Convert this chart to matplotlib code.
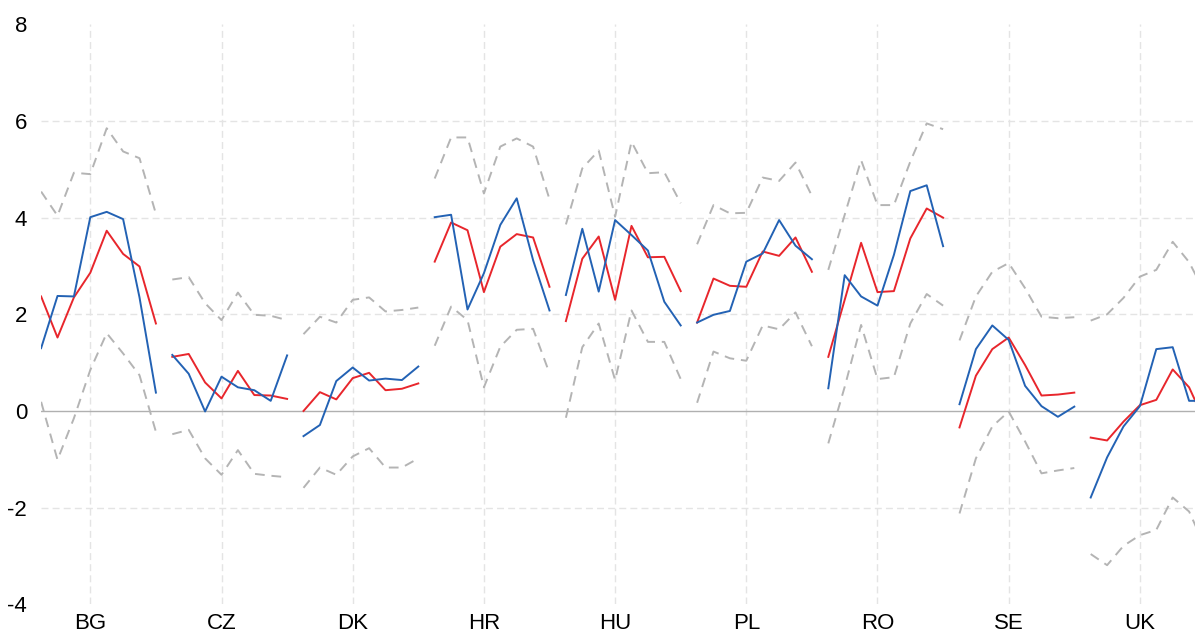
import matplotlib
matplotlib.use("Agg")
import matplotlib.pyplot as plt
import numpy as np

plt.rcParams['font.family'] = ['Liberation Sans', 'DejaVu Sans']

countries = ["BG", "CZ", "DK", "HR", "HU", "PL", "RO", "SE", "UK"]

blue = {
    "BG": [1.30, 2.38, 2.37, 4.01, 4.12, 3.97, 2.35, 0.38],
    "CZ": [1.16, 0.77, -0.01, 0.71, 0.49, 0.43, 0.21, 1.15],
    "DK": [-0.52, -0.29, 0.62, 0.90, 0.63, 0.67, 0.64, 0.92],
    "HR": [4.01, 4.06, 2.10, 2.85, 3.85, 4.40, 3.12, 2.08],
    "HU": [2.40, 3.77, 2.47, 3.95, 3.64, 3.32, 2.26, 1.77],
    "PL": [1.83, 1.99, 2.07, 3.09, 3.26, 3.95, 3.42, 3.14],
    "RO": [0.47, 2.81, 2.37, 2.18, 3.23, 4.55, 4.67, 3.41],
    "SE": [0.14, 1.28, 1.77, 1.47, 0.52, 0.10, -0.12, 0.09],
    "UK": [-1.79, -0.96, -0.32, 0.10, 1.28, 1.32, 0.21, 0.21],
}
red = {
    "BG": [2.37, 1.52, 2.35, 2.86, 3.73, 3.25, 2.99, 1.81],
    "CZ": [1.12, 1.18, 0.59, 0.26, 0.83, 0.33, 0.32, 0.25],
    "DK": [0.00, 0.39, 0.24, 0.68, 0.79, 0.43, 0.46, 0.57],
    "HR": [3.09, 3.90, 3.74, 2.46, 3.40, 3.66, 3.59, 2.57],
    "HU": [1.86, 3.15, 3.61, 2.30, 3.83, 3.18, 3.19, 2.48],
    "PL": [1.83, 2.74, 2.59, 2.57, 3.30, 3.21, 3.59, 2.88],
    "RO": [1.12, 2.30, 3.48, 2.46, 2.48, 3.57, 4.19, 4.00],
    "SE": [-0.34, 0.73, 1.28, 1.52, 0.95, 0.32, 0.34, 0.38],
    "UK": [-0.55, -0.61, -0.22, 0.12, 0.23, 0.86, 0.49, -0.25],
}
upper = {
    "BG": [4.54, 4.04, 4.93, 4.90, 5.85, 5.37, 5.23, 4.08],
    "CZ": [2.72, 2.77, 2.23, 1.88, 2.45, 1.99, 1.97, 1.88],
    "DK": [1.59, 1.95, 1.83, 2.30, 2.35, 2.06, 2.09, 2.14],
    "HR": [4.81, 5.66, 5.66, 4.50, 5.47, 5.64, 5.47, 4.38],
    "HU": [3.86, 5.02, 5.39, 4.02, 5.57, 4.92, 4.94, 4.30],
    "PL": [3.45, 4.26, 4.09, 4.10, 4.83, 4.76, 5.14, 4.45],
    "RO": [2.92, 4.06, 5.19, 4.26, 4.26, 5.16, 5.95, 5.83],
    "SE": [1.46, 2.37, 2.88, 3.06, 2.54, 1.95, 1.92, 1.94],
    "UK": [1.87, 2.00, 2.34, 2.78, 2.92, 3.50, 3.08, 2.42],
}
lower = {
    "BG": [0.19, -1.01, -0.15, 0.85, 1.61, 1.19, 0.74, -0.43],
    "CZ": [-0.48, -0.39, -0.98, -1.32, -0.81, -1.30, -1.34, -1.37],
    "DK": [-1.59, -1.17, -1.32, -0.94, -0.77, -1.17, -1.17, -0.98],
    "HR": [1.35, 2.16, 1.88, 0.49, 1.33, 1.68, 1.70, 0.78],
    "HU": [-0.14, 1.32, 1.81, 0.64, 2.08, 1.43, 1.43, 0.66],
    "PL": [0.17, 1.23, 1.09, 1.04, 1.77, 1.69, 2.04, 1.34],
    "RO": [-0.67, 0.50, 1.78, 0.66, 0.70, 1.81, 2.42, 2.18],
    "SE": [-2.12, -0.98, -0.32, -0.01, -0.63, -1.29, -1.23, -1.18],
    "UK": [-2.96, -3.19, -2.79, -2.57, -2.46, -1.79, -2.08, -2.83],
}

n_per = 8
yticks = [-4, -2, 0, 2, 4, 6, 8]

BLUE = "#2362b4"
RED = "#e8262c"
GREY = "#b4b4b4"

fig = plt.figure(figsize=(11.95, 6.37), dpi=100)
ax = fig.add_axes([0.0344, 0.0513, 1 - 0.0344, 0.9618 - 0.0513])

for g, c in enumerate(countries):
    xs = np.arange(n_per) + g * n_per
    ax.plot(xs, upper[c], color=GREY, lw=1.4, dashes=(5, 3.5), zorder=2)
    ax.plot(xs, lower[c], color=GREY, lw=1.4, dashes=(5, 3.5), zorder=2)
    ax.plot(xs, blue[c], color=BLUE, lw=1.4, zorder=4)
    ax.plot(xs, red[c], color=RED, lw=1.4, zorder=3)

centers = [g * n_per + 3 for g in range(len(countries))]
ax.set_xlim(0, 70.36)
ax.set_ylim(-4, 8)

for y in [-2, 2, 4, 6]:
    ax.axhline(y, color="#e4e4e4", lw=1.0, dashes=(5, 3), zorder=1)
for x in centers:
    ax.axvline(x, color="#e4e4e4", lw=1.0, dashes=(5, 3), zorder=1)
ax.axhline(0, color="#b0b0b0", lw=1.0, zorder=1.5)

ax.set_xticks(centers)
ax.set_xticklabels(countries)
ax.set_yticks(yticks)
ax.set_yticklabels([str(v) for v in yticks])
ax.tick_params(axis="both", length=0, labelsize=16, colors="black")
ax.tick_params(axis="y", pad=10)
ax.tick_params(axis="x", pad=6)
for s in ax.spines.values():
    s.set_visible(False)

fig.savefig("out.png", dpi=100)
